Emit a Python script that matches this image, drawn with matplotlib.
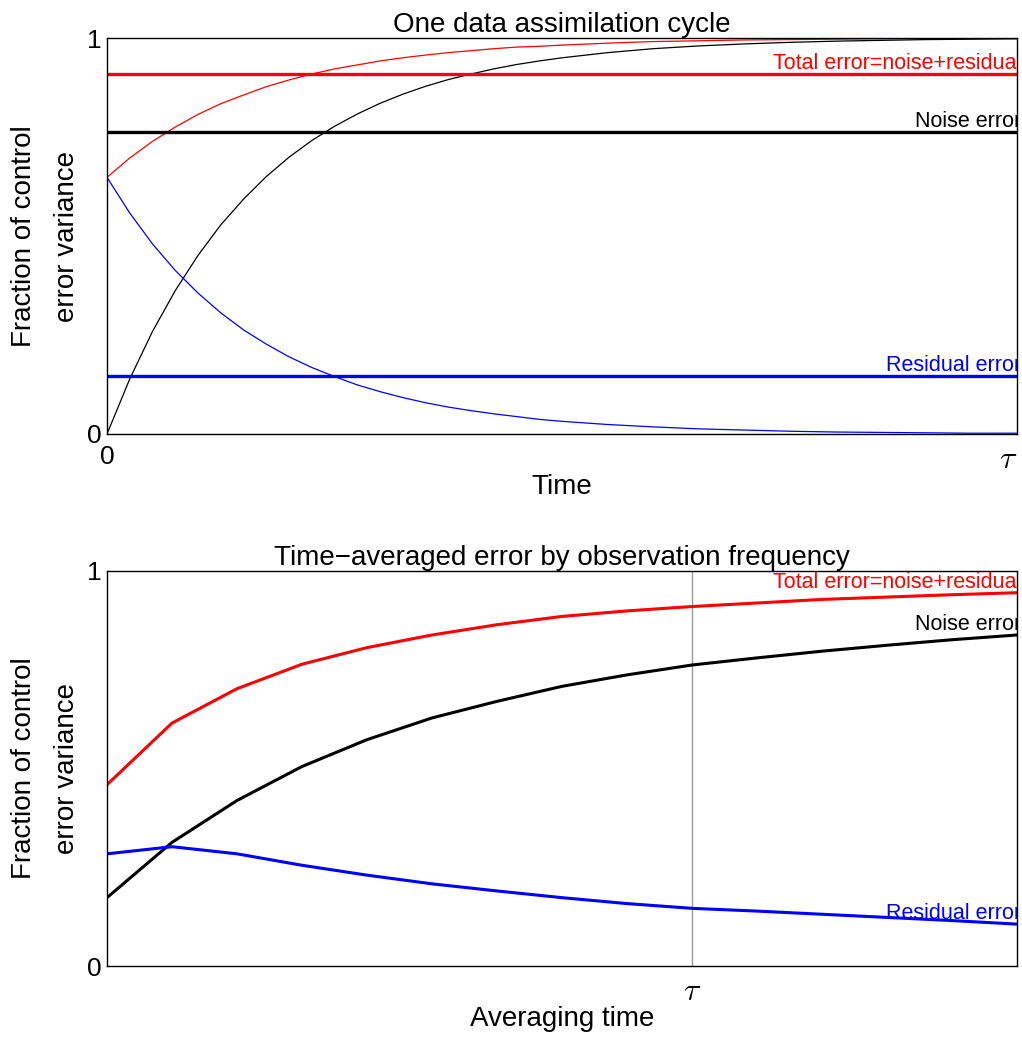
import numpy as np
import matplotlib
matplotlib.use("Agg")
import matplotlib.pyplot as plt

plt.rcParams['font.family'] = ['Liberation Sans', 'DejaVu Sans']
plt.rcParams['mathtext.fontset'] = 'cm'

# one assimilation cycle, time as a fraction of tau
cycle_time = [0, 0.025, 0.05, 0.075, 0.1, 0.125, 0.15, 0.175, 0.2, 0.225,
              0.25, 0.275, 0.3, 0.325, 0.35, 0.375, 0.4, 0.425, 0.45, 0.475,
              0.5, 0.55, 0.6, 0.65, 0.7, 0.75, 0.8, 0.85, 0.9, 0.95, 1.0]
cycle_noise = [0, 0.139, 0.259, 0.362, 0.451, 0.528, 0.593, 0.650, 0.699, 0.741,
               0.777, 0.808, 0.835, 0.858, 0.878, 0.895, 0.909, 0.922, 0.933, 0.942,
               0.950, 0.963, 0.973, 0.980, 0.985, 0.989, 0.992, 0.994, 0.996, 0.997, 0.998]
cycle_residual = [0.648, 0.558, 0.480, 0.413, 0.356, 0.306, 0.263, 0.227, 0.195, 0.168,
                  0.145, 0.124, 0.107, 0.092, 0.079, 0.068, 0.059, 0.051, 0.044, 0.037,
                  0.032, 0.024, 0.018, 0.013, 0.010, 0.007, 0.005, 0.004, 0.003, 0.002, 0.002]
cycle_total = [0.648, 0.697, 0.739, 0.775, 0.807, 0.834, 0.856, 0.877, 0.894, 0.909,
               0.922, 0.932, 0.942, 0.950, 0.957, 0.963, 0.968, 0.973, 0.977, 0.979,
               0.982, 0.987, 0.991, 0.993, 0.995, 0.996, 0.997, 0.998, 0.999, 0.999, 1.000]

# time-averaged errors vs averaging time (tau is step 9)
avg_time = list(range(15))
tau_idx = 9
avg_noise = [0.173, 0.313, 0.419, 0.505, 0.573, 0.628, 0.670, 0.708, 0.737, 0.762,
             0.780, 0.797, 0.812, 0.826, 0.838]
avg_residual = [0.284, 0.302, 0.284, 0.255, 0.230, 0.208, 0.190, 0.173, 0.158, 0.146,
                0.139, 0.131, 0.123, 0.115, 0.106]
avg_total = [0.459, 0.615, 0.702, 0.764, 0.806, 0.838, 0.864, 0.885, 0.899, 0.910,
             0.919, 0.928, 0.934, 0.940, 0.945]

labels = ['Total error=noise+residual', 'Noise error', 'Residual error']
colors = ['red', 'black', 'blue']

W, H = 1022, 1037
fig = plt.figure(figsize=(W / 100, H / 100), dpi=100)
ax1 = fig.add_axes([107 / W, 1 - 434 / H, 910 / W, 396 / H])
ax2 = fig.add_axes([107 / W, 1 - 966 / H, 910 / W, 395 / H])


def label_end(ax, x, y, text, color):
    ax.annotate(text, (x, y), xytext=(3, 3.5), textcoords='offset points',
                ha='right', va='baseline', color=color, fontsize=15.5,
                annotation_clip=False, clip_on=True)


# top: single cycle
for series, c in zip([cycle_total, cycle_noise, cycle_residual], colors):
    ax1.plot(cycle_time, series, color=c, lw=0.9)
for series, c, lab in zip([avg_total, avg_noise, avg_residual], colors, labels):
    v = series[tau_idx]
    ax1.plot([0, 1], [v, v], color=c, lw=2.4)
    label_end(ax1, 1, v, lab, c)

ax1.set_xlim(0, 1)
ax1.set_ylim(0, 1)
ax1.set_xticks([0, 1])
ax1.set_xticklabels(['0', r'$\tau$'])
ax1.set_title('One data assimilation cycle', fontsize=20, pad=3)
ax1.set_xlabel('Time', fontsize=20)
ax1.xaxis.set_label_coords(0.5, -0.1)

# bottom: averaged over time
ax2.axvline(tau_idx, color='#999999', lw=1.0)
for series, c, lab in zip([avg_total, avg_noise, avg_residual], colors, labels):
    ax2.plot(avg_time, series, color=c, lw=2.2)
    label_end(ax2, avg_time[-1], series[-1], lab, c)

ax2.set_xlim(avg_time[0], avg_time[-1])
ax2.set_ylim(0, 1)
ax2.set_xticks([tau_idx])
ax2.set_xticklabels([r'$\tau$'])
ax2.set_title('Time\u2212averaged error by observation frequency', fontsize=20, pad=3)
ax2.set_xlabel('Averaging time', fontsize=20)
ax2.xaxis.set_label_coords(0.5, -0.1)

for ax in (ax1, ax2):
    ax.set_yticks([0, 1])
    ax.set_yticklabels(['0', '1'])
    ax.tick_params(length=0, labelsize=19)
    ax.tick_params(axis='x', pad=8)
    ax.tick_params(axis='y', pad=4)
    for s in ax.spines.values():
        s.set_linewidth(1.0)
    cy = ax.get_position().y0 + ax.get_position().height / 2
    fig.text(45.5 / W, cy, 'Fraction of control\nerror variance', rotation=90,
             ha='center', va='center', multialignment='center',
             fontsize=20, linespacing=1.8)

# tau labels a bit larger, the top one kept inside the figure
for lbl in ax1.get_xticklabels()[1:] + ax2.get_xticklabels():
    lbl.set_fontsize(23)
ax1.get_xticklabels()[1].set_horizontalalignment('right')

fig.savefig('out.png', dpi=100)
